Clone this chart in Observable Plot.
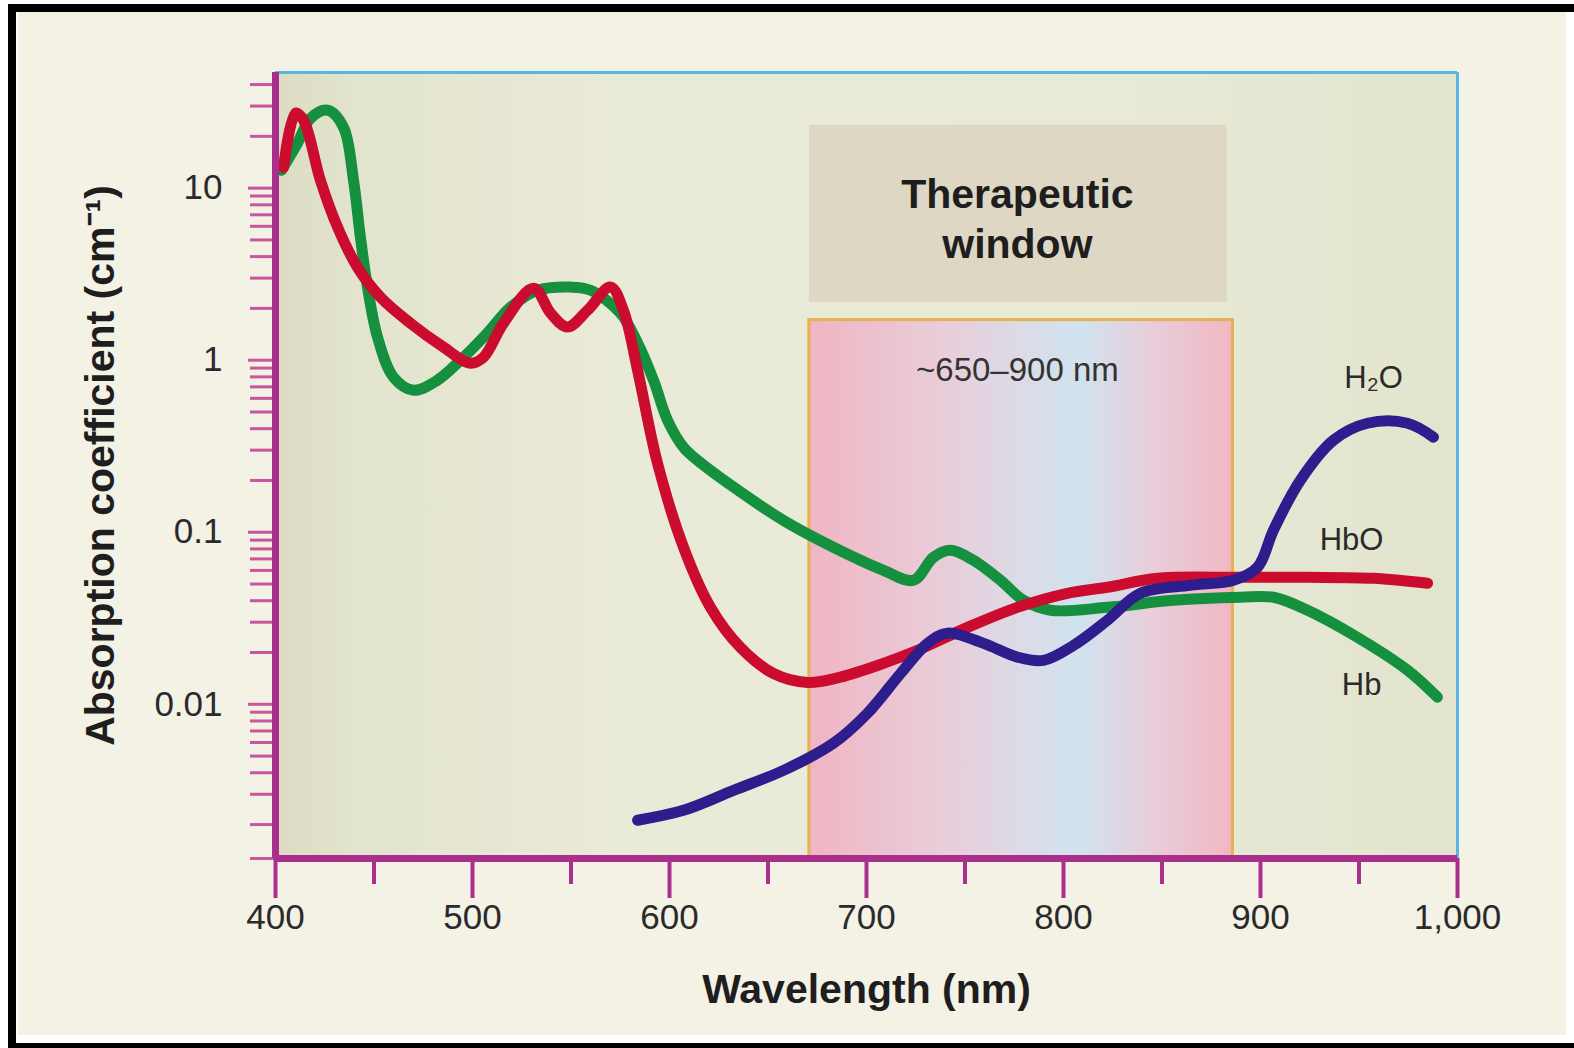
<!DOCTYPE html>
<html><head><meta charset="utf-8">
<script src="https://cdn.jsdelivr.net/npm/d3@7"></script>
<script src="https://cdn.jsdelivr.net/npm/@observablehq/plot@0.6"></script>
<style>
html,body{margin:0;padding:0;background:#fff;}
#wrap{position:relative;width:1574px;height:1048px;overflow:hidden;}
#panel{position:absolute;left:18px;top:12px;right:8px;bottom:13px;background:#f4f1e5;}
#chart{position:absolute;left:0;top:0;}
#frame{position:absolute;left:8px;top:4px;width:1600px;height:1044px;box-sizing:border-box;border-left:8px solid #000;border-top:8px solid #000;border-bottom:5px solid #000;pointer-events:none;}
</style></head><body>
<div id="wrap"><div id="panel"></div><div id="chart"></div><div id="frame"></div></div>
<script>
// ---- data ----
const hbNm = [403.0, 411.2, 417.8, 426.4, 434.5, 439.6, 443.1, 446.7, 451.8, 459.9, 470.1, 482.2, 493.9, 507.6, 519.3, 533.0, 549.7, 559.9, 575.1, 583.8, 591.9, 599.0, 607.1, 614.2, 632.5, 657.9, 683.2, 708.6, 723.9, 734.0, 742.6, 754.3, 768.0, 779.7, 793.4, 822.3, 855.8, 889.8, 906.6, 923.9, 949.2, 974.6, 989.8];
const hbCoef = [12.7, 18.3, 25.5, 28.4, 22.6, 11.1, 5.19, 2.66, 1.36, 0.797, 0.669, 0.765, 1.0, 1.44, 2.03, 2.55, 2.66, 2.55, 1.88, 1.26, 0.765, 0.448, 0.312, 0.262, 0.183, 0.117, 0.0818, 0.0601, 0.0526, 0.0716, 0.0786, 0.0687, 0.0526, 0.0402, 0.0352, 0.0366, 0.0402, 0.0419, 0.0419, 0.0352, 0.0245, 0.0158, 0.0110];

const hboNm = [404.1, 410.2, 414.2, 422.8, 431.5, 441.6, 453.3, 468.5, 485.3, 499.0, 505.6, 515.7, 531.0, 539.6, 548.2, 558.4, 570.1, 576.6, 583.8, 593.9, 607.1, 620.8, 636.0, 652.8, 670.1, 686.8, 708.6, 725.9, 751.3, 776.6, 802.0, 822.3, 847.7, 889.8, 923.9, 957.4, 984.8];
const hboCoef = [13.2, 27.3, 24.9, 11.1, 5.93, 3.47, 2.32, 1.64, 1.19, 0.96, 1.04, 1.64, 2.62, 1.88, 1.56, 1.95, 2.66, 1.95, 0.875, 0.252, 0.0818, 0.0366, 0.0214, 0.0151, 0.0134, 0.0144, 0.0173, 0.0206, 0.0280, 0.0366, 0.0442, 0.0479, 0.0540, 0.0547, 0.0547, 0.0540, 0.0505];

const waterNm = [583.8, 607.1, 632.5, 657.9, 683.2, 700.5, 717.3, 731.0, 741.1, 759.4, 776.6, 789.8, 805.1, 822.3, 839.1, 864.5, 886.3, 898.5, 906.6, 920.3, 937.1, 954.3, 974.6, 987.8];
const waterCoef = [0.00212, 0.00242, 0.00316, 0.00413, 0.00593, 0.00887, 0.0151, 0.0226, 0.0259, 0.0226, 0.0188, 0.0180, 0.0220, 0.0308, 0.0442, 0.0492, 0.0526, 0.0626, 0.103, 0.201, 0.343, 0.430, 0.430, 0.357];

const seriesNames = ["Hb", "HbO", "H₂O"];
const seriesColors = ["#14903e", "#cb0c2f", "#2e1d8d"];

const curveLabels = ["H₂O", "HbO", "Hb"];
const curveLabelNm = [957.4, 946.2, 951.3];
const curveLabelCoef = [0.786, 0.0898, 0.0129];

const xDomain = [400, 1000];
const yDomain = [0.00127, 47];
const xMajorTicks = [400, 500, 600, 700, 800, 900, 1000];
const xMinorTicks = [450, 550, 650, 750, 850, 950];
const yMajorTicks = [0.01, 0.1, 1, 10];
const yMinorTicks = [0.00127, 0.002, 0.003, 0.004, 0.005, 0.006, 0.007, 0.008, 0.009,
  0.02, 0.03, 0.04, 0.05, 0.06, 0.07, 0.08, 0.09,
  0.2, 0.3, 0.4, 0.5, 0.6, 0.7, 0.8, 0.9,
  2, 3, 4, 5, 6, 7, 8, 9, 20, 30, 40];

const windowNm = [671, 886];
const windowCoef = [0.00127, 1.71];
const boxNm = [671, 883];
const boxCoef = [2.17, 23.2];
const boxTitle = "Therapeutic\nwindow";
const boxTitleAt = [776.6, 6.78];
const windowText = "~650–900 nm";
const windowTextAt = [776.6, 0.875];

const xTitle = "Wavelength (nm)";
const yTitle = "Absorption coefficient (cm⁻¹)";

// ---- build ----
const lines = [hbNm, hboNm, waterNm].flatMap((nms, s) => {
  const vals = [hbCoef, hboCoef, waterCoef][s];
  return nms.map((nm, i) => ({series: seriesNames[s], nm, coef: vals[i]}));
});
const labels = curveLabels.map((t, i) => ({t, nm: curveLabelNm[i], coef: curveLabelCoef[i]}));

const sans = "'Liberation Sans', Arial, Helvetica, sans-serif";
const magenta = "#a8308c";
const tickPink = "#c9579d";
const textCol = "#2a2a2a";

const svg = Plot.plot({
  width: 1574, height: 1048,
  marginLeft: 275, marginRight: 117, marginTop: 72, marginBottom: 190,
  style: {background: "transparent", overflow: "visible", fontFamily: sans},
  x: {domain: xDomain, axis: null},
  y: {type: "log", domain: yDomain, axis: null},
  color: {domain: seriesNames, range: seriesColors},
  marks: [
    Plot.frame({fill: "url(#bgGrad)", stroke: "none"}),
    Plot.rect([{x1: windowNm[0], x2: windowNm[1], y1: windowCoef[0], y2: windowCoef[1]}],
      {x1: "x1", x2: "x2", y1: "y1", y2: "y2", fill: "url(#pinkGrad)", stroke: "#e6b24f", strokeWidth: 3}),
    Plot.rect([{x1: boxNm[0], x2: boxNm[1], y1: boxCoef[0], y2: boxCoef[1]}],
      {x1: "x1", x2: "x2", y1: "y1", y2: "y2", fill: "#ddd7c3"}),
    Plot.text([boxTitle], {x: () => boxTitleAt[0], y: () => boxTitleAt[1], text: d => d,
      fontSize: 41, fontWeight: "bold", fill: "#1e1e1e", fontFamily: sans, lineHeight: 1.2}),
    Plot.text([windowText], {x: () => windowTextAt[0], y: () => windowTextAt[1], text: d => d,
      fontSize: 33, fill: "#333", fontFamily: sans}),
    // top & right blue border
    Plot.ruleY([yDomain[1]], {stroke: "#58b7e0", strokeWidth: 3}),
    Plot.ruleX([xDomain[1]], {stroke: "#58b7e0", strokeWidth: 3}),
    // curves
    Plot.line(lines.filter(d => d.series === "Hb"), {x: "nm", y: "coef", stroke: "series", strokeWidth: 11, curve: "catmull-rom", strokeLinecap: "round", strokeLinejoin: "round"}),
    Plot.line(lines.filter(d => d.series === "HbO"), {x: "nm", y: "coef", stroke: "series", strokeWidth: 11, curve: "catmull-rom", strokeLinecap: "round", strokeLinejoin: "round"}),
    Plot.line(lines.filter(d => d.series === "H₂O"), {x: "nm", y: "coef", stroke: "series", strokeWidth: 11, curve: "catmull-rom", strokeLinecap: "round", strokeLinejoin: "round"}),
    Plot.text(labels, {x: "nm", y: "coef", text: "t", fontSize: 31, fill: textCol, fontFamily: sans}),
    // axes
    Plot.axisY({ticks: yMinorTicks, tickSize: 25, tickFormat: () => "", stroke: tickPink, strokeWidth: 3, label: null}),
    Plot.axisY({ticks: yMajorTicks, tickSize: 27, tickFormat: () => "", stroke: tickPink, strokeWidth: 3, label: null}),
    Plot.axisY({ticks: yMajorTicks, tickSize: 0, tickPadding: 53, tickFormat: d => String(d), fontSize: 35, fontFamily: sans, fill: textCol, label: null}),
    Plot.axisX({ticks: xMajorTicks, tickSize: 40, tickFormat: () => "", stroke: magenta, strokeWidth: 4, label: null}),
    Plot.axisX({ticks: xMinorTicks, tickSize: 26, tickFormat: () => "", stroke: magenta, strokeWidth: 4, label: null}),
    Plot.axisX({ticks: xMajorTicks, tickSize: 0, tickPadding: 46, tickFormat: d3.format(","), fontSize: 35, fontFamily: sans, fill: textCol, label: null}),
    Plot.ruleX([xDomain[0]], {stroke: magenta, strokeWidth: 7}),
    Plot.ruleY([yDomain[0]], {stroke: magenta, strokeWidth: 7}),
    Plot.text([xTitle], {frameAnchor: "bottom", lineAnchor: "bottom", dy: 144, text: d => d, fontSize: 41, fontWeight: "bold", fill: "#1e1e1e", fontFamily: sans}),
    Plot.text([yTitle], {frameAnchor: "left", textAnchor: "middle", lineAnchor: "middle", rotate: -90, dx: -175, text: d => d, fontSize: 41, fontWeight: "bold", fill: "#1e1e1e", fontFamily: sans})
  ]
});

const defs = document.createElementNS("http://www.w3.org/2000/svg", "defs");
defs.innerHTML = `
<linearGradient id="bgGrad" x1="0" x2="1" y1="0" y2="0">
  <stop offset="0" stop-color="#dcdcc4"/>
  <stop offset="0.07" stop-color="#e3e4cd"/>
  <stop offset="0.3" stop-color="#eaead8"/>
  <stop offset="0.75" stop-color="#e8e9d6"/>
  <stop offset="1" stop-color="#e2e4cd"/>
</linearGradient>
<linearGradient id="pinkGrad" x1="0" x2="1" y1="0" y2="0">
  <stop offset="0" stop-color="#f0b5c3"/>
  <stop offset="0.3" stop-color="#e9ccd8"/>
  <stop offset="0.5" stop-color="#dcdbe6"/>
  <stop offset="0.64" stop-color="#cfe3ef"/>
  <stop offset="0.8" stop-color="#e7cfdb"/>
  <stop offset="1" stop-color="#f0b7c3"/>
</linearGradient>`;
svg.insertBefore(defs, svg.firstChild);
document.getElementById("chart").appendChild(svg);
</script></body></html>
